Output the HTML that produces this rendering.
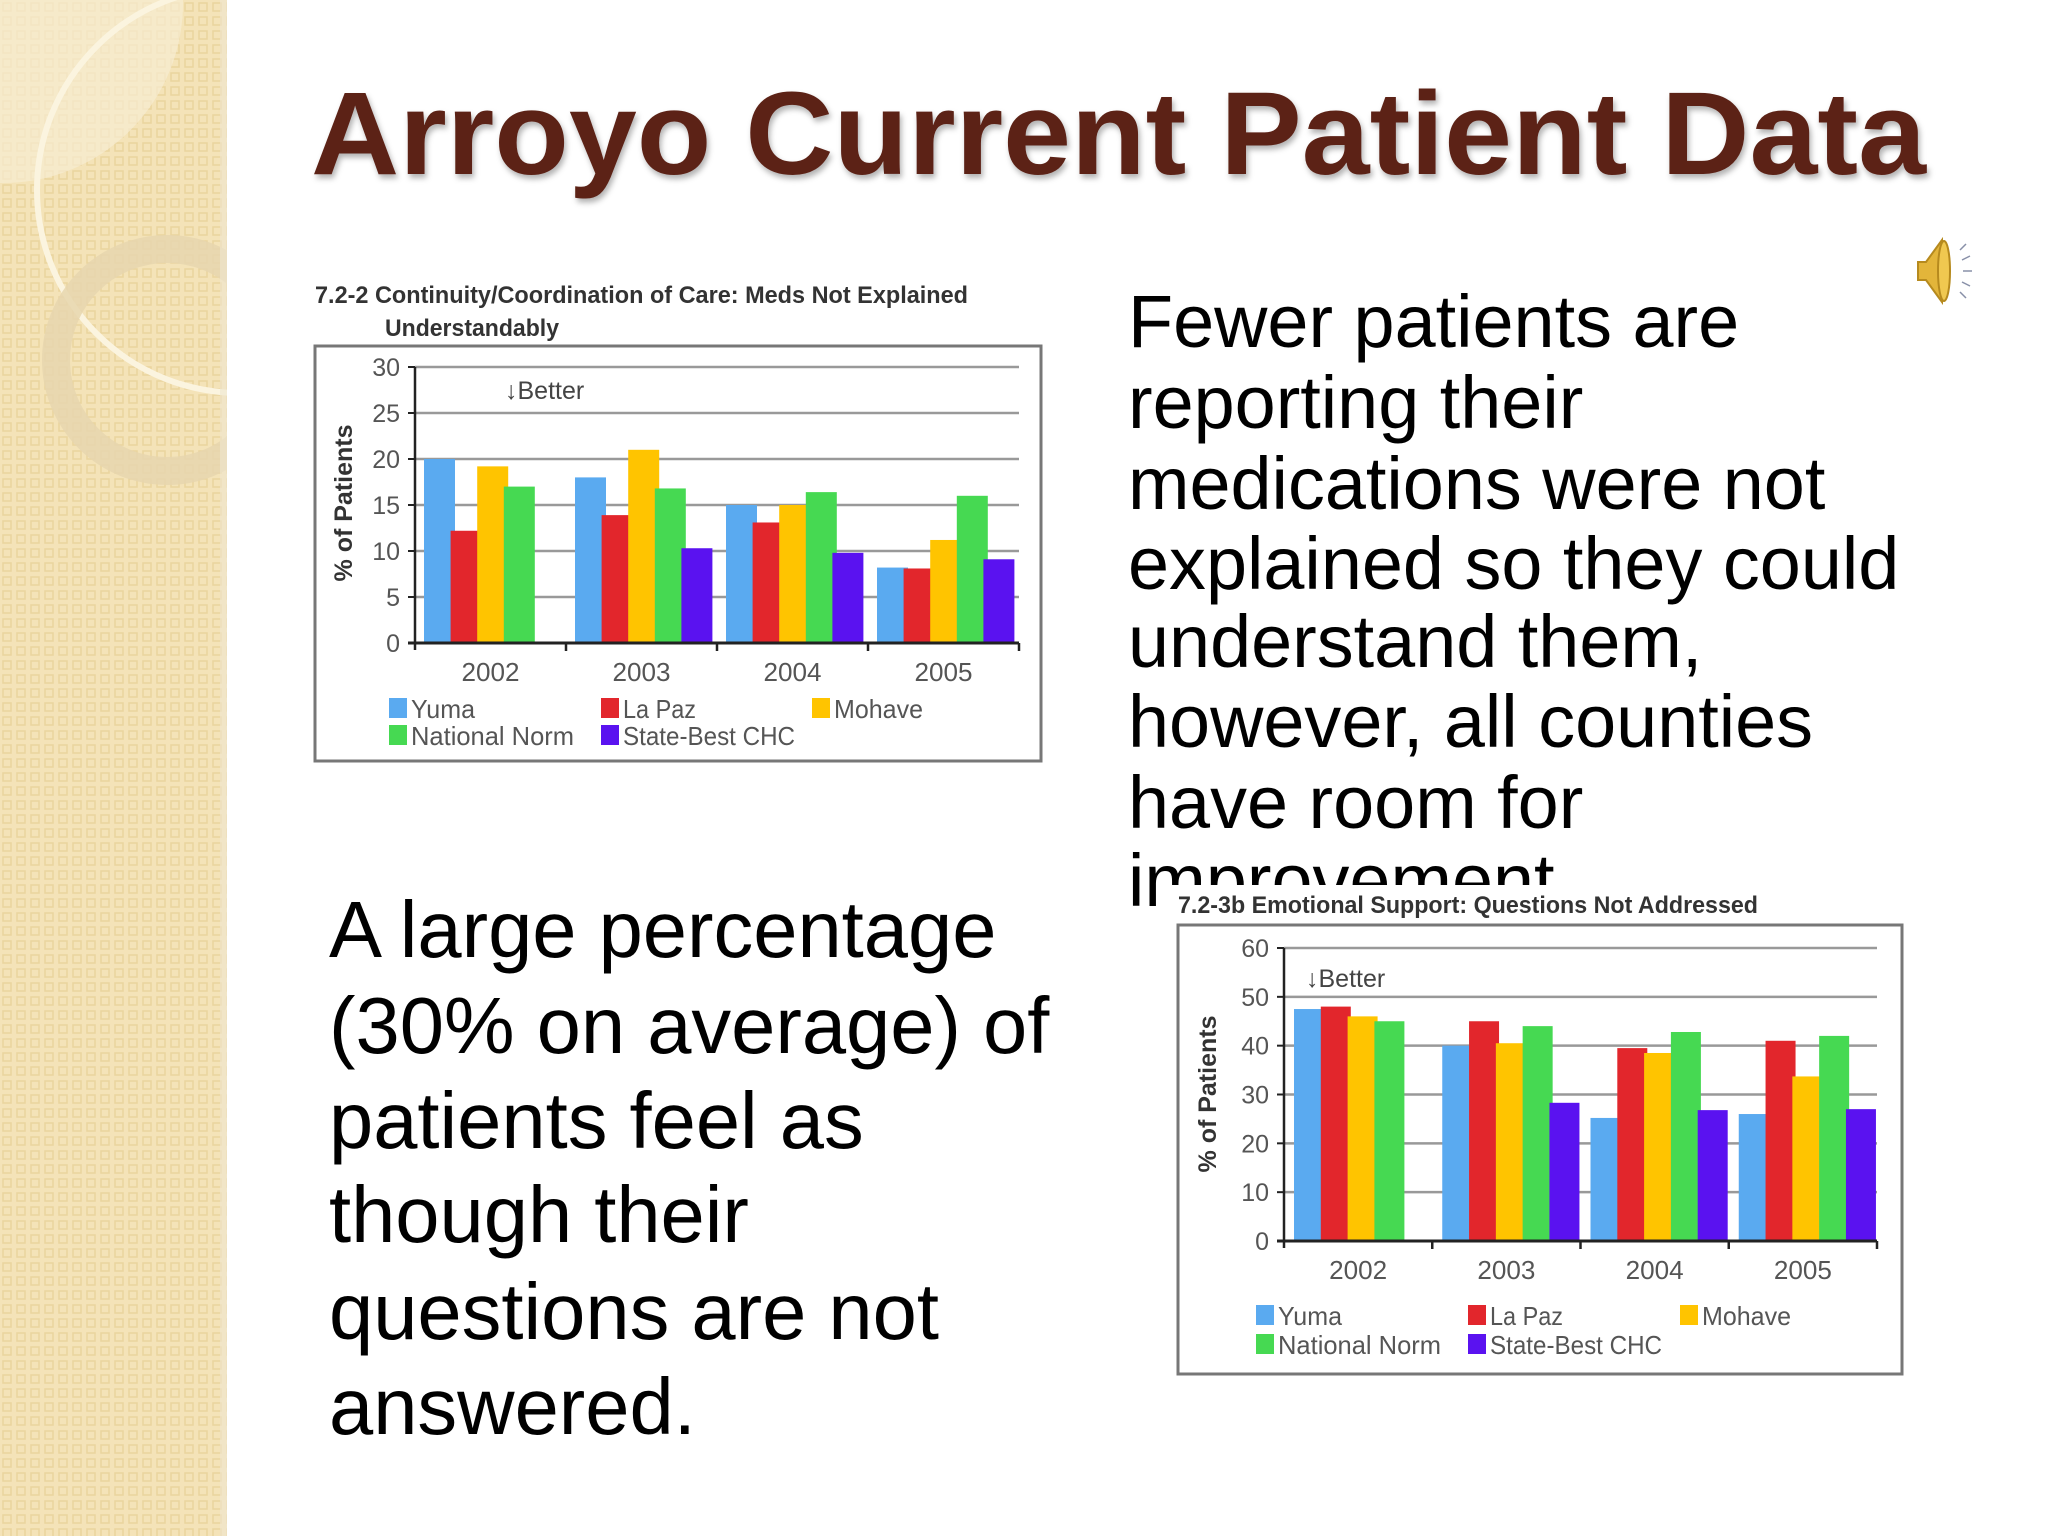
<!DOCTYPE html>
<html><head><meta charset="utf-8"><style>
html,body{margin:0;padding:0;background:#fff}
svg{display:block}
text{font-family:"Liberation Sans",Arial,sans-serif}
</style></head><body>
<svg id="slide" width="2048" height="1536" viewBox="0 0 2048 1536">
<defs>
<pattern id="dots" width="14" height="14" patternUnits="userSpaceOnUse">
<rect width="14" height="14" fill="#f4e3b8"/>
<rect x="3" y="3" width="8" height="8" fill="none" stroke="#ead49e" stroke-width="1.5"/>
</pattern>
<clipPath id="stripclip"><rect x="0" y="0" width="227" height="1536"/></clipPath>
<filter id="sh" x="-5%" y="-5%" width="110%" height="120%"><feDropShadow dx="2" dy="4" stdDeviation="3" flood-color="#000" flood-opacity="0.3"/></filter>
</defs>
<g clip-path="url(#stripclip)">
<rect x="0" y="0" width="227" height="1536" fill="url(#dots)"/>
<path d="M0 0 H183 A180 180 0 0 1 0 183 Z" fill="#f7ecd2" opacity="0.7"/>
<circle cx="240" cy="190" r="203" fill="none" stroke="#fbf4df" stroke-width="6"/>
<circle cx="167" cy="360" r="111" fill="none" stroke="#e6d6ae" stroke-width="28" opacity="0.85"/>
<rect x="220" y="0" width="7" height="1536" fill="#efe6d0" opacity="0.6"/>
</g>
<text x="311" y="174" font-size="118" font-weight="bold" fill="#5b2319" filter="url(#sh)" textLength="1615" lengthAdjust="spacingAndGlyphs">Arroyo Current Patient Data</text>
<g>
<path d="M1918 262 h8 l16 -22 v62 l-16 -22 h-8 z" fill="#e3b53a" stroke="#b68a1e" stroke-width="2"/>
<ellipse cx="1944" cy="271" rx="6" ry="30" fill="#f0c850" stroke="#b68a1e" stroke-width="2"/>
<g stroke="#8890a8" stroke-width="1.5"><line x1="1960" y1="250" x2="1966" y2="244"/><line x1="1962" y1="260" x2="1970" y2="256"/><line x1="1963" y1="271" x2="1972" y2="271"/><line x1="1962" y1="282" x2="1970" y2="286"/><line x1="1960" y1="292" x2="1966" y2="298"/></g>
</g>
<g font-size="73.8" fill="#000">
<text x="1128" y="347">Fewer patients are</text>
<text x="1128" y="428">reporting their</text>
<text x="1128" y="509">medications were not</text>
<text x="1128" y="589">explained so they could</text>
<text x="1128" y="667">understand them,</text>
<text x="1128" y="747">however, all counties</text>
<text x="1128" y="828">have room for</text>
<text x="1128" y="906">improvement</text>
</g>
<g font-size="79.5" fill="#000">
<text x="329" y="957">A large percentage</text>
<text x="329" y="1053">(30% on average) of</text>
<text x="329" y="1148">patients feel as</text>
<text x="329" y="1242">though their</text>
<text x="329" y="1339">questions are not</text>
<text x="329" y="1434">answered.</text>
</g>
<rect x="1160" y="885" width="760" height="500" fill="#fff"/>
<g id="chart1"></g>
<g id="chart2"></g>
</svg>
<script>
const categories = ["2002","2003","2004","2005"];
const seriesNames = ["Yuma","La Paz","Mohave","National Norm","State-Best CHC"];
const chart1Yuma = [20, 18, 15, 8.2];
const chart1LaPaz = [12.2, 13.9, 13.1, 8.1];
const chart1Mohave = [19.2, 21, 15, 11.2];
const chart1National = [17, 16.8, 16.4, 16];
const chart1StateBest = [null, 10.3, 9.8, 9.1];
const chart1Ticks = [0,5,10,15,20,25,30];
const chart2Yuma = [47.5, 40, 25.2, 26];
const chart2LaPaz = [48, 45, 39.5, 41];
const chart2Mohave = [46, 40.5, 38.5, 33.7];
const chart2National = [45, 44, 42.8, 42];
const chart2StateBest = [null, 28.3, 26.8, 27];
const chart2Ticks = [0,10,20,30,40,50,60];
const colors = ["#5aaaf0","#e2262c","#ffc400","#46d952","#5a12f0"];
const NS = "http://www.w3.org/2000/svg";
function mk(tag, attrs, parent, txt){
  const e = document.createElementNS(NS, tag);
  for (const k in attrs) e.setAttribute(k, attrs[k]);
  if (txt !== undefined) e.textContent = txt;
  parent.appendChild(e); return e;
}
function drawChart(g, cfg){
  const series = cfg.series, ticks = cfg.ticks, maxV = ticks[ticks.length-1];
  const yScale = v => cfg.y0 - (v / maxV) * (cfg.y0 - cfg.yTop);
  const band = (cfg.xRight - cfg.xAxis) / categories.length;
  const xBand = i => cfg.xAxis + i * band;
  const box = mk('rect',{x:cfg.box[0],y:cfg.box[1],width:cfg.box[2],height:cfg.box[3],fill:'#fff',stroke:'#777','stroke-width':3},g);
  
  
  cfg.title.forEach(t=>{
    const el = mk('text',{x:t[0],y:t[1],'font-size':24,'font-weight':'bold',fill:'#333',textLength:t[3],lengthAdjust:'spacingAndGlyphs'},g,t[2]);
    
    
  });
  ticks.forEach(v=>{
    const y = yScale(v);
    if (v>0){
      const gl = mk('line',{x1:cfg.xAxis,y1:y,x2:cfg.xRight,y2:y,stroke:'#999','stroke-width':2.5},g);
      
      
    }
    mk('line',{x1:cfg.xAxis-7,y1:y,x2:cfg.xAxis,y2:y,stroke:'#222','stroke-width':2},g);
    const tl = mk('text',{x:cfg.xAxis-15,y:y+9,'font-size':25,fill:'#555','text-anchor':'end'},g,String(v));
    
    
  });
  categories.forEach((c,i)=>{
    series.forEach((vals,s)=>{
      const v = vals[i];
      if (v===null || v===undefined) return;
      const x = xBand(i) + cfg.offset + s * cfg.step;
      const r = mk('rect',{x:x,y:yScale(v),width:cfg.barW,height:cfg.y0-yScale(v),fill:colors[s]},g);
      
      
    });
    const xl = mk('text',{x:xBand(i)+band/2,y:cfg.y0+38,'font-size':26,fill:'#555','text-anchor':'middle',textLength:58,lengthAdjust:'spacingAndGlyphs'},g,c);
    
    
    mk('line',{x1:xBand(i+1),y1:cfg.y0,x2:xBand(i+1),y2:cfg.y0+8,stroke:'#222','stroke-width':2.5},g);
  });
  mk('line',{x1:cfg.xAxis,y1:cfg.yTop,x2:cfg.xAxis,y2:cfg.y0+7,stroke:'#222','stroke-width':2.5},g);
  const xa = mk('line',{x1:cfg.xAxis-7,y1:cfg.y0,x2:cfg.xRight,y2:cfg.y0,stroke:'#222','stroke-width':3},g);
  
  
  const yt = mk('text',{x:0,y:0,'font-size':25,'font-weight':'bold',fill:'#333','text-anchor':'middle',transform:`translate(${cfg.yTitle[0]},${cfg.yTitle[1]}) rotate(-90)`},g,'% of Patients');
  
  
  const bt = mk('text',{x:cfg.better[0],y:cfg.better[1],'font-size':25,fill:'#444'},g,'\u2193Better');
  
  
  const lx = cfg.legendX, ly = cfg.legendY;
  const pos = [[0,0],[1,0],[2,0],[0,1],[1,1]];
  seriesNames.forEach((n,s)=>{
    const x = lx[pos[s][0]], y = ly[pos[s][1]];
    const le = mk('g',{},g);
    
    
    mk('rect',{x:x,y:y-10,width:18,height:20,fill:colors[s]},le);
    mk('text',{x:x+22,y:y+10,'font-size':26,fill:'#555',textLength:cfg.legendLen[s],lengthAdjust:'spacingAndGlyphs'},le,n);
  });
}
drawChart(document.getElementById('chart1'),{
  series:[chart1Yuma,chart1LaPaz,chart1Mohave,chart1National,chart1StateBest],
  ticks:chart1Ticks, y0:643, yTop:367, xAxis:415, xRight:1019,
  offset:9, step:26.6, barW:31,
  box:[315,346,726,415],
  title:[[315,303,'7.2-2  Continuity/Coordination of Care: Meds Not Explained',653],[385,336,'Understandably',174]],
  yTitle:[352,503], better:[505,399],
  legendX:[389,601,812], legendY:[708,735], legendLen:[64,73,89,163,172]
});
drawChart(document.getElementById('chart2'),{
  series:[chart2Yuma,chart2LaPaz,chart2Mohave,chart2National,chart2StateBest],
  ticks:chart2Ticks, y0:1241, yTop:948, xAxis:1284, xRight:1877,
  offset:10, step:26.8, barW:30,
  box:[1178,925,724,449],
  title:[[1178,913,'7.2-3b  Emotional Support: Questions Not Addressed',580]],
  yTitle:[1216,1094], better:[1306,987],
  legendX:[1256,1468,1680], legendY:[1315,1344], legendLen:[64,73,89,163,172]
});
</script>
</body></html>
